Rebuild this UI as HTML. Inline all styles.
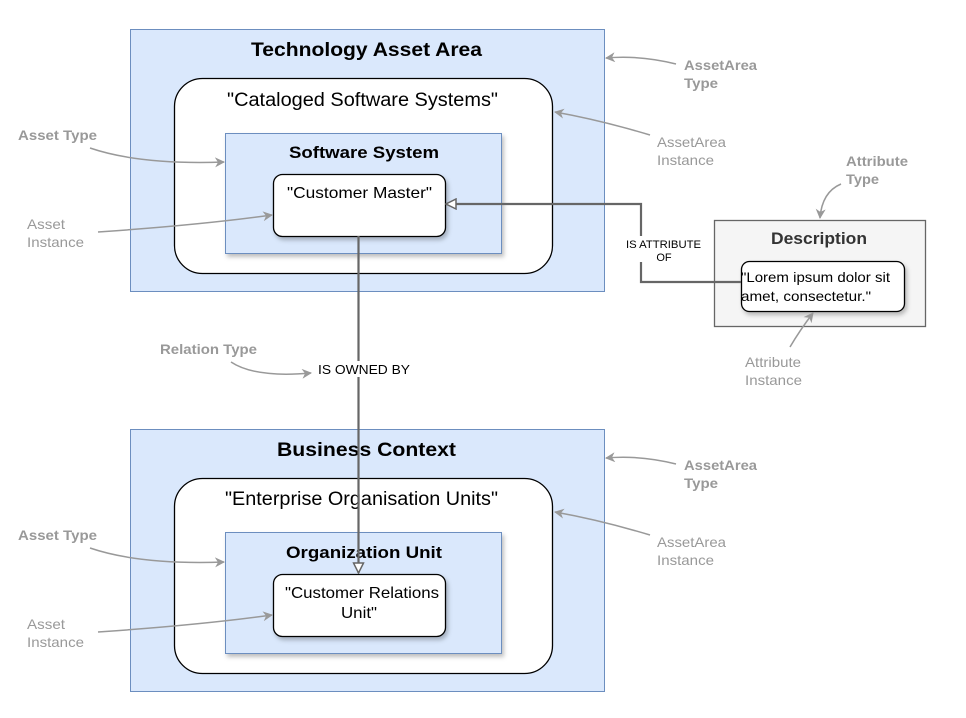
<!DOCTYPE html>
<html><head><meta charset="utf-8"><style>
html,body{margin:0;padding:0;background:#fff;}
svg{display:block;font-family:"Liberation Sans",Arial,sans-serif;}
</style></head><body>
<svg width="966" height="718" viewBox="0 0 966 718" xmlns="http://www.w3.org/2000/svg">
<defs>
<marker id="ga" markerWidth="10" markerHeight="10" refX="9" refY="5" orient="auto" markerUnits="userSpaceOnUse">
<path d="M0,0 L10,5 L0,10 L3,5 Z" fill="#999"/></marker>
<marker id="oa" markerWidth="12" markerHeight="12" refX="11" refY="6" orient="auto" markerUnits="userSpaceOnUse">
<path d="M1,1 L11,6 L1,11 Z" fill="#fff" stroke="#666" stroke-width="1.5"/></marker>
<filter id="sh" x="-10%" y="-10%" width="130%" height="140%"><feDropShadow dx="2" dy="3" stdDeviation="2" flood-color="#000" flood-opacity="0.25"/></filter>
</defs>

<g lengthAdjust="spacingAndGlyphs">
<rect x="130.5" y="29.5" width="474" height="262" fill="#dae8fc" stroke="#6c8ebf"/>
<text x="251" y="56" font-size="19" font-weight="bold" textLength="231" lengthAdjust="spacingAndGlyphs">Technology Asset Area</text>
<rect x="174.5" y="78.5" width="378" height="195" rx="28" fill="#fff" stroke="#000" stroke-width="1.3"/>
<text x="227" y="106" font-size="19" textLength="271" lengthAdjust="spacingAndGlyphs">"Cataloged Software Systems"</text>
<rect x="225.5" y="133.5" width="276" height="120" fill="#dae8fc" stroke="#6c8ebf" filter="url(#sh)"/>
<text x="289" y="158" font-size="17" font-weight="bold" textLength="150" lengthAdjust="spacingAndGlyphs">Software System</text>
<rect x="273.5" y="174.5" width="172" height="62" rx="9" fill="#fff" stroke="#000" stroke-width="1.3" filter="url(#sh)"/>
<text x="287" y="198" font-size="16" textLength="145" lengthAdjust="spacingAndGlyphs">"Customer Master"</text>

<rect x="130.5" y="429.5" width="474" height="262" fill="#dae8fc" stroke="#6c8ebf"/>
<text x="277" y="456" font-size="19" font-weight="bold" textLength="179" lengthAdjust="spacingAndGlyphs">Business Context</text>
<rect x="174.5" y="478.5" width="378" height="195" rx="28" fill="#fff" stroke="#000" stroke-width="1.3"/>
<text x="225" y="505" font-size="19" textLength="273" lengthAdjust="spacingAndGlyphs">"Enterprise Organisation Units"</text>
<rect x="225.5" y="532.5" width="276" height="121" fill="#dae8fc" stroke="#6c8ebf" filter="url(#sh)"/>
<text x="286" y="558" font-size="17" font-weight="bold" textLength="156" lengthAdjust="spacingAndGlyphs">Organization Unit</text>
<rect x="273.5" y="574.5" width="172" height="62" rx="9" fill="#fff" stroke="#000" stroke-width="1.3" filter="url(#sh)"/>
<text x="285" y="598" font-size="16" textLength="154" lengthAdjust="spacingAndGlyphs">"Customer Relations</text>
<text x="341" y="618" font-size="16" textLength="36" lengthAdjust="spacingAndGlyphs">Unit"</text>

<rect x="714.5" y="220.5" width="211" height="106" fill="#f5f5f5" stroke="#666" stroke-width="1.3"/>
<text x="771" y="244" font-size="17" font-weight="bold" fill="#333" textLength="96" lengthAdjust="spacingAndGlyphs">Description</text>
<rect x="741.5" y="261.5" width="163" height="50" rx="8" fill="#fff" stroke="#000" stroke-width="1.3" filter="url(#sh)"/>
<text x="741" y="282" font-size="14" textLength="149" lengthAdjust="spacingAndGlyphs">"Lorem ipsum dolor sit</text>
<text x="741" y="301" font-size="14" textLength="130" lengthAdjust="spacingAndGlyphs">amet, consectetur."</text>

<polyline points="741,282 641,282 641,204 446,204" fill="none" stroke="#666" stroke-width="2.2" marker-end="url(#oa)"/>
<rect x="622" y="236" width="84" height="26" fill="#fff"/>
<text x="626" y="248" font-size="11" textLength="75" lengthAdjust="spacingAndGlyphs">IS ATTRIBUTE</text>
<text x="664" y="261" font-size="11" text-anchor="middle">OF</text>
<line x1="358.5" y1="236" x2="358.5" y2="573" stroke="#666" stroke-width="2.2" marker-end="url(#oa)"/>
<rect x="315" y="361" width="98" height="16" fill="#fff"/>
<text x="318" y="374" font-size="13" textLength="92" lengthAdjust="spacingAndGlyphs">IS OWNED BY</text>

<g fill="#999" font-size="14">
<text x="684" y="70" font-weight="bold" textLength="73" lengthAdjust="spacingAndGlyphs">AssetArea</text>
<text x="684" y="88" font-weight="bold" textLength="34" lengthAdjust="spacingAndGlyphs">Type</text>
<text x="657" y="147" textLength="69" lengthAdjust="spacingAndGlyphs">AssetArea</text>
<text x="657" y="165" textLength="57" lengthAdjust="spacingAndGlyphs">Instance</text>
<text x="18" y="140" font-weight="bold" textLength="79" lengthAdjust="spacingAndGlyphs">Asset Type</text>
<text x="27" y="229" textLength="38" lengthAdjust="spacingAndGlyphs">Asset</text>
<text x="27" y="247" textLength="57" lengthAdjust="spacingAndGlyphs">Instance</text>
<text x="684" y="470" font-weight="bold" textLength="73" lengthAdjust="spacingAndGlyphs">AssetArea</text>
<text x="684" y="488" font-weight="bold" textLength="34" lengthAdjust="spacingAndGlyphs">Type</text>
<text x="657" y="547" textLength="69" lengthAdjust="spacingAndGlyphs">AssetArea</text>
<text x="657" y="565" textLength="57" lengthAdjust="spacingAndGlyphs">Instance</text>
<text x="18" y="540" font-weight="bold" textLength="79" lengthAdjust="spacingAndGlyphs">Asset Type</text>
<text x="27" y="629" textLength="38" lengthAdjust="spacingAndGlyphs">Asset</text>
<text x="27" y="647" textLength="57" lengthAdjust="spacingAndGlyphs">Instance</text>
<text x="846" y="166" font-weight="bold" textLength="62" lengthAdjust="spacingAndGlyphs">Attribute</text>
<text x="846" y="184" font-weight="bold" textLength="33" lengthAdjust="spacingAndGlyphs">Type</text>
<text x="745" y="367" textLength="56" lengthAdjust="spacingAndGlyphs">Attribute</text>
<text x="745" y="385" textLength="57" lengthAdjust="spacingAndGlyphs">Instance</text>
<text x="160" y="354" font-weight="bold" textLength="97" lengthAdjust="spacingAndGlyphs">Relation Type</text>
</g>
</g>
<g fill="none" stroke="#999" stroke-width="1.5" marker-end="url(#ga)">
<path d="M676,64 Q640,55 606,58"/>
<path d="M650,135 Q600,120 555,112"/>
<path d="M90,148 Q140,165 224,162"/>
<path d="M98,232 Q200,225 272,215"/>
<path d="M676,464 Q640,455 606,458"/>
<path d="M650,535 Q600,520 555,512"/>
<path d="M90,548 Q140,565 224,562"/>
<path d="M98,632 Q200,625 272,615"/>
<path d="M841,184 Q822,192 820,218"/>
<path d="M790,347 Q800,330 813,313"/>
<path d="M231,362 Q255,378 311,373"/>
</g>
</svg>
</body></html>
